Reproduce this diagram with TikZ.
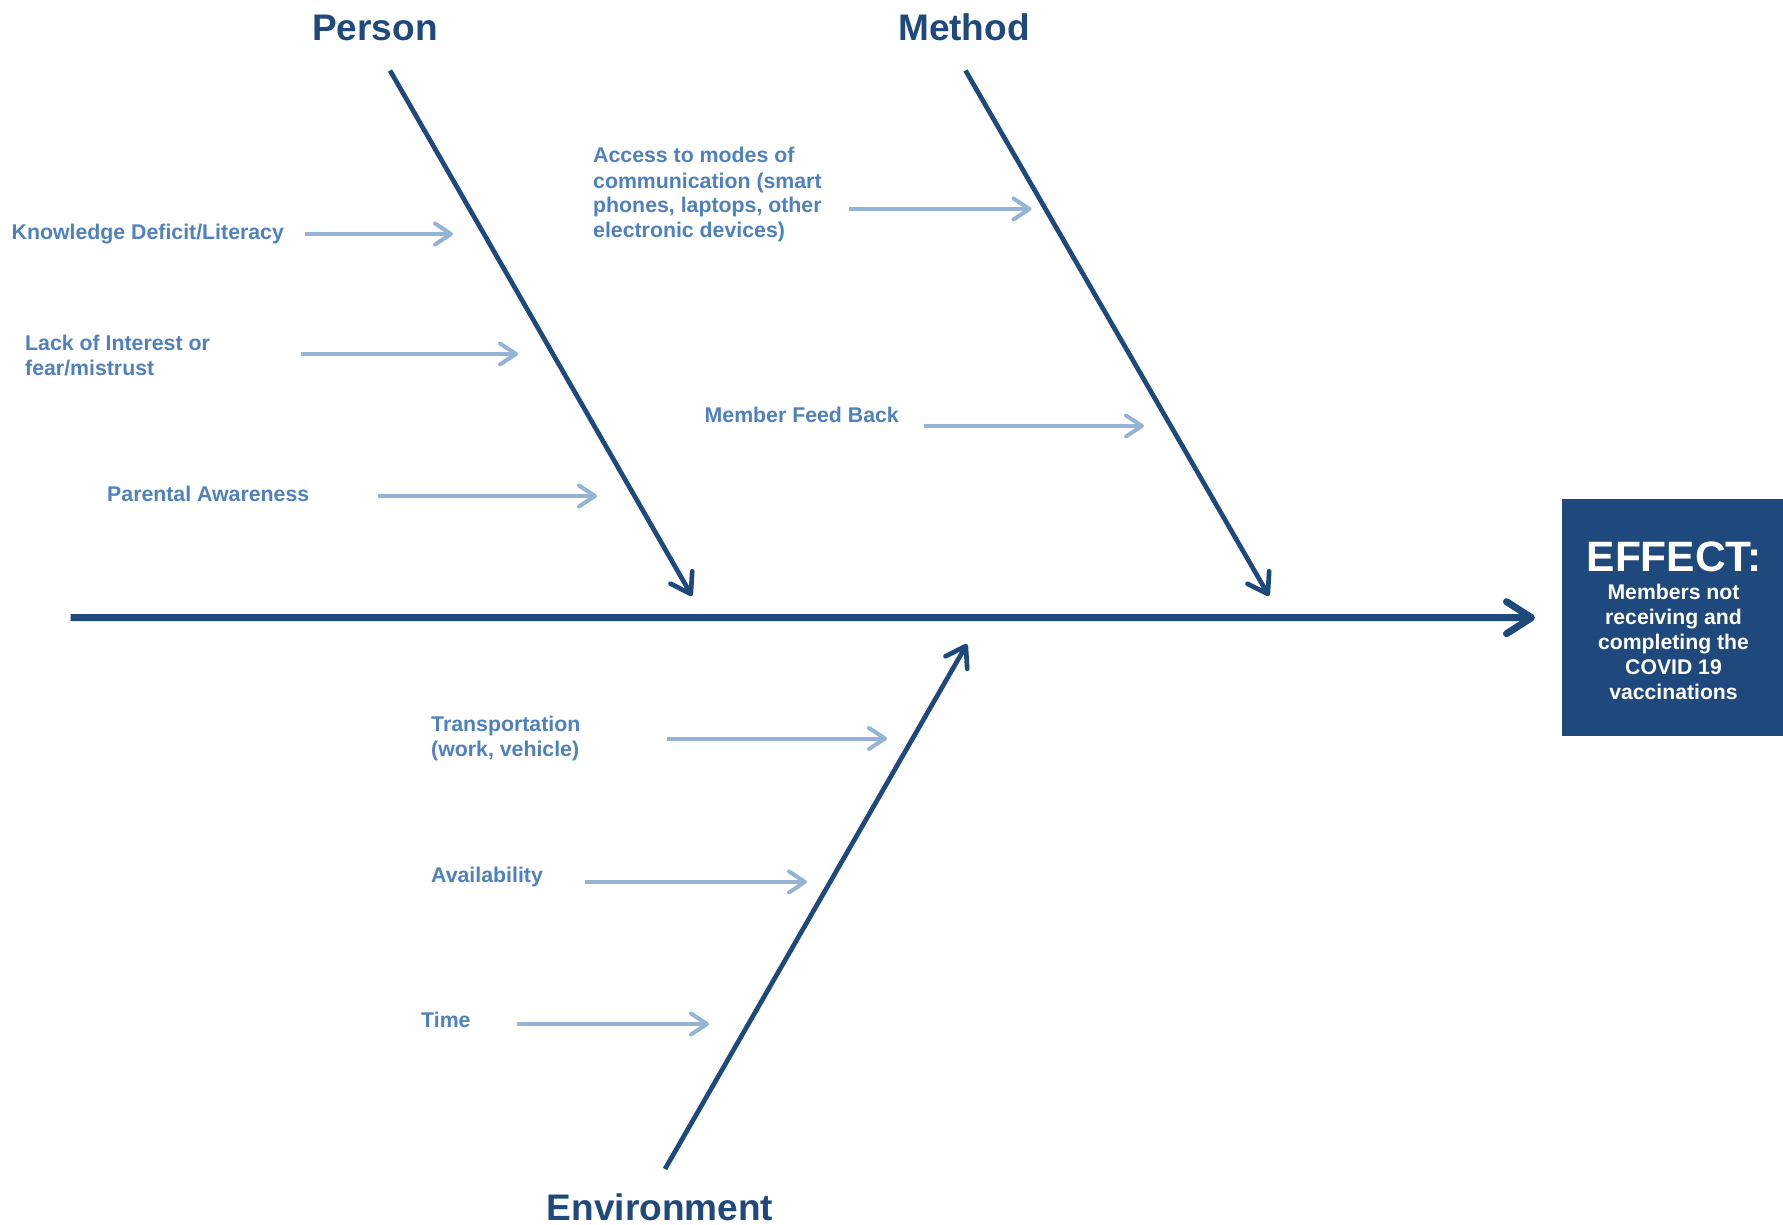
\documentclass[tikz,border=0pt]{standalone}
\usepackage{fontspec}
\setmainfont{Liberation Sans}
\usetikzlibrary{arrows.meta}
\definecolor{darkblue}{RGB}{31,73,125}
\definecolor{causetext}{RGB}{79,129,189}
\definecolor{causearrow}{RGB}{149,179,215}
\begin{document}
\begin{tikzpicture}[x=1pt,y=-1pt,
  title/.style={font=\fontsize{37}{44}\selectfont\bfseries, text=darkblue, inner sep=0pt, anchor=base},
  cause/.style={font=\fontsize{21.3}{25}\selectfont\bfseries, text=causetext, inner sep=0pt, anchor=base west, align=left},
  bone/.style={draw=darkblue, line width=4.7pt, -{Straight Barb[length=19pt,width=25pt,line cap=round,line join=round]}},
  spine/.style={draw=darkblue, line width=7pt, -{Straight Barb[length=25pt,width=32pt,line cap=round,line join=round]}},
  causearr/.style={draw=causearrow, line width=4pt, -{Straight Barb[length=16pt,width=21pt,line cap=round,line join=round]}},
  effectbox/.style={fill=darkblue, inner sep=0pt, minimum width=221pt, minimum height=237pt, anchor=north west},
  effecttext/.style={text=white, inner sep=0pt, anchor=base, align=center}
]
\useasboundingbox (0,0) rectangle (1783,1225);

% titles
\node[title] (person) at (375,41) {Person};
\node[title] (method) at (964,41) {Method};
\node[title] (environment) at (660,1220) {Environment};

% effect
\node[effectbox] (effect) at (1562,499) {};
\node[effecttext, font=\fontsize{42.5}{48}\selectfont\bfseries] (efftitle) at (1674,571) {EFFECT:};
% base anchor of a multi-line node = baseline of its last line
\node[effecttext, font=\fontsize{21.2}{24.8}\selectfont\bfseries] (effbody) at (1673.5,699) {Members not\\receiving and\\completing the\\COVID 19\\vaccinations};

% spine and bones
\coordinate (spinestart) at (70.5,617.5);
\draw[spine, shorten >=27pt] (spinestart) -- (effect.west);

\coordinate (pstart) at (390,70.5);
\coordinate (ptip) at (692,596);
\coordinate (mstart) at (965.5,70.5);
\coordinate (mtip) at (1269,596);
\coordinate (estart) at (665,1169);
\coordinate (etip) at (967,644);
\draw[bone] (pstart) -- (ptip);
\draw[bone] (mstart) -- (mtip);
\draw[bone] (estart) -- (etip);

% causes: Person
\node[cause] (c1) at (11.5,240) {Knowledge Deficit/Literacy};
\node[cause] (c2) at (25,375) {Lack of Interest or\\fear/mistrust};
\node[cause] (c3) at (107,501) {Parental Awareness};
% causes: Method
\node[cause] (c4) at (593,238) {Access to modes of\\communication (smart\\phones, laptops, other\\electronic devices)};
\node[cause] (c5) at (704.5,422) {Member Feed Back};
% causes: Environment
\node[cause] (c6) at (431,756) {Transportation\\(work, vehicle)};
\node[cause] (c7) at (431,882) {Availability};
\node[cause] (c8) at (421,1027) {Time};

\coordinate (a1s) at (305,234);   \coordinate (a1e) at (453,234);
\coordinate (a2s) at (301,354);   \coordinate (a2e) at (518,354);
\coordinate (a3s) at (377.5,496); \coordinate (a3e) at (597,496);
\coordinate (a4s) at (849,209);   \coordinate (a4e) at (1031.5,209);
\coordinate (a5s) at (924,426);   \coordinate (a5e) at (1144,426);
\coordinate (a6s) at (667,738.5); \coordinate (a6e) at (887,738.5);
\coordinate (a7s) at (584.5,882); \coordinate (a7e) at (807,882);
\coordinate (a8s) at (517,1024);  \coordinate (a8e) at (709,1024);
\foreach \i in {1,...,8}{\draw[causearr] (a\i s) -- (a\i e);}
\end{tikzpicture}
\end{document}
